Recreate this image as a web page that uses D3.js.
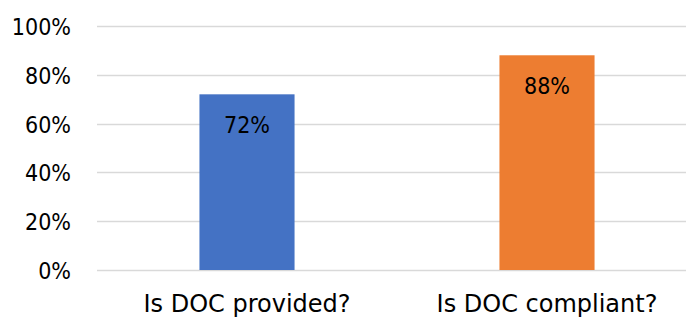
<!DOCTYPE html>
<html>
<head>
<meta charset="utf-8">
<script src="https://cdn.jsdelivr.net/npm/d3@7"></script>
<style>
  html, body { margin: 0; padding: 0; background: #fff; }
  svg { display: block; }
  text { font-family: "DejaVu Sans Condensed", "DejaVu Sans", sans-serif; fill: #000; }
  .cat text { font-family: "DejaVu Sans", sans-serif; }
</style>
</head>
<body>
<svg id="chart" width="686" height="320"></svg>
<script>
// Share of checks answered "yes"
const categories = ["Is DOC provided?", "Is DOC compliant?"];
const values = [0.72, 0.88];
const barColors = ["#4472C4", "#ED7D31"];
const yTicks = [0, 0.2, 0.4, 0.6, 0.8, 1.0];

const svg = d3.select("#chart");
const plot = { left: 97, right: 697, top: 26, bottom: 270 };

const x = d3.scaleBand()
  .domain(categories)
  .range([plot.left, plot.right])
  .paddingInner(0.683)
  .paddingOuter(0.683 / 2);

const y = d3.scaleLinear().domain([0, 1]).range([plot.bottom, plot.top]);
const pct = d3.format(".0%");

// Gridlines
svg.append("g")
  .selectAll("line")
  .data(yTicks)
  .join("line")
  .attr("x1", plot.left)
  .attr("x2", 686)
  .attr("y1", d => Math.round(y(d)) + 0.5)
  .attr("y2", d => Math.round(y(d)) + 0.5)
  .attr("stroke", "#D9D9D9")
  .attr("stroke-width", 1.5);

// Y axis labels
const yAxis = svg.append("g")
  .attr("transform", `translate(${plot.left - 26},0)`)
  .call(d3.axisLeft(y).tickValues(yTicks).tickFormat(pct).tickSize(0).tickPadding(0));
yAxis.select(".domain").remove();
yAxis.selectAll("text")
  .style("font-size", "23px")
  .attr("dy", "0.37em");

// Bars
svg.append("g")
  .selectAll("rect")
  .data(values)
  .join("rect")
  .attr("x", (d, i) => x(categories[i]))
  .attr("width", x.bandwidth())
  .attr("y", d => y(d))
  .attr("height", d => y(0) - y(d))
  .attr("fill", (d, i) => barColors[i]);

// Value labels inside the bar tops
svg.append("g")
  .selectAll("text")
  .data(values)
  .join("text")
  .attr("x", (d, i) => x(categories[i]) + x.bandwidth() / 2)
  .attr("y", d => y(d) + 39)
  .attr("text-anchor", "middle")
  .style("font-size", "23px")
  .text(d => pct(d));

// Category labels
const xAxis = svg.append("g")
  .attr("class", "cat")
  .attr("transform", `translate(0,${plot.bottom})`)
  .call(d3.axisBottom(x).tickSize(0).tickPadding(0));
xAxis.select(".domain").remove();
xAxis.selectAll("text")
  .style("font-size", "24px")
  .attr("dy", null)
  .attr("y", 42);
</script>
</body>
</html>
